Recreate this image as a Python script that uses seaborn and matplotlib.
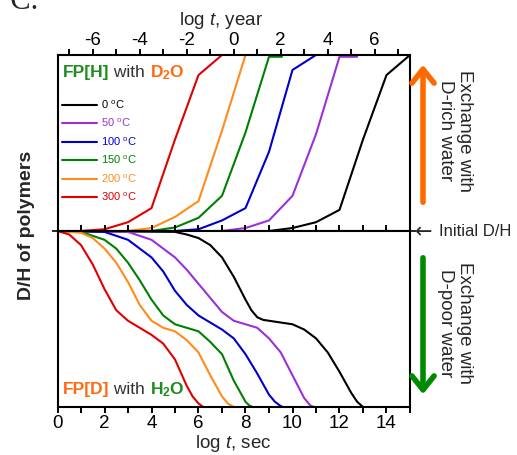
import matplotlib
matplotlib.use("Agg")
import matplotlib.pyplot as plt
import pandas as pd
import seaborn as sns
from matplotlib.lines import Line2D
from matplotlib.patches import FancyArrowPatch
from matplotlib.offsetbox import TextArea, HPacker, AnchoredOffsetbox

temps = ["0", "50", "100", "150", "200", "300"]
colors = ["#000000", "#9B30D9", "#0000CC", "#008000", "#FF8C1A", "#E00000"]

# upper panel: FP[H] with D2O, x in log t (year)
up_x = {
    "0": [1.5, 2.5, 3.5, 4.5, 5.5, 6.5, 7.5],
    "50": [-0.5, 0.5, 1.5, 2.5, 3.5, 4.5, 5.25],
    "100": [-2.5, -1.5, -0.5, 0.5, 1.5, 2.5, 3.5],
    "150": [-3.5, -2.5, -1.5, -0.5, 0.5, 1.5, 2.05],
    "200": [-4.5, -3.5, -2.5, -1.5, -0.5, 0.5],
    "300": [-6.5, -5.5, -4.5, -3.5, -2.5, -1.5, -0.5],
}
up_y = {
    "0": [0, 0.017, 0.05, 0.12, 0.52, 0.886, 1.0],
    "50": [0, 0.017, 0.06, 0.2, 0.55, 0.99, 0.99],
    "100": [0, 0.01, 0.06, 0.13, 0.45, 0.915, 1.0],
    "150": [0, 0.02, 0.075, 0.2, 0.56, 0.99, 0.99],
    "200": [0, 0.017, 0.08, 0.17, 0.57, 1.0],
    "300": [0, 0.01, 0.05, 0.13, 0.52, 0.886, 1.0],
}

# lower panel: FP[D] with H2O, x in log t (sec)
low_x = {
    "0": [0, 5, 5.5, 6, 6.5, 7, 7.5, 8, 8.25, 8.5, 8.75, 9, 9.5, 10, 10.5, 11, 11.5,
          12, 12.5, 12.75, 13],
    "50": [0, 3, 4, 4.5, 5, 5.5, 6, 6.5, 7, 7.5, 8, 8.5, 9, 9.5, 10, 10.5, 10.75,
           10.9],
    "100": [0, 2, 3, 3.5, 4, 4.5, 5, 5.5, 6, 6.5, 7, 7.5, 8, 8.5, 9, 9.25, 9.5, 9.6],
    "150": [0, 1, 2, 2.5, 3, 3.5, 4, 4.5, 5, 5.5, 6, 6.5, 7, 7.5, 8, 8.15, 8.3],
    "200": [0, 1, 1.5, 2, 2.5, 3, 3.5, 4, 4.5, 5, 5.5, 6, 6.5, 7, 7.25, 7.5],
    "300": [0, 0.5, 1, 1.5, 2, 2.5, 3, 3.5, 4, 4.5, 5, 5.5, 5.75, 6, 6.2],
}
low_y = {
    "0": [0, -0.005, -0.02, -0.04, -0.08, -0.15, -0.26, -0.39, -0.45, -0.49, -0.505,
          -0.51, -0.52, -0.53, -0.56, -0.61, -0.69, -0.8, -0.92, -0.97, -1.0],
    "50": [0, -0.005, -0.05, -0.1, -0.15, -0.22, -0.3, -0.38, -0.46, -0.51, -0.53,
           -0.55, -0.61, -0.69, -0.82, -0.95, -0.99, -1.0],
    "100": [0, -0.005, -0.05, -0.1, -0.15, -0.23, -0.34, -0.42, -0.48, -0.52, -0.56,
            -0.61, -0.7, -0.81, -0.93, -0.97, -0.995, -1.0],
    "150": [0, -0.005, -0.05, -0.1, -0.18, -0.28, -0.39, -0.48, -0.53, -0.55, -0.57,
            -0.63, -0.7, -0.85, -0.97, -0.99, -1.0],
    "200": [0, -0.01, -0.04, -0.1, -0.18, -0.29, -0.42, -0.51, -0.55, -0.57, -0.62,
            -0.69, -0.82, -0.94, -0.98, -1.0],
    "300": [0, -0.02, -0.08, -0.19, -0.33, -0.45, -0.51, -0.55, -0.59, -0.64, -0.73,
            -0.88, -0.94, -0.98, -1.0],
}


def to_frame(xs, ys):
    rows = []
    for t in temps:
        for x, y in zip(xs[t], ys[t]):
            rows.append({"temp": t, "x": x, "y": y})
    return pd.DataFrame(rows)


sns.set_theme(style="ticks")
plt.rcParams["font.family"] = ["Liberation Sans", "DejaVu Sans"]
plt.rcParams["mathtext.fontset"] = "custom"
plt.rcParams["mathtext.rm"] = "Liberation Sans"
plt.rcParams["mathtext.it"] = "Liberation Sans:italic"
plt.rcParams["mathtext.bf"] = "Liberation Sans:bold"
plt.rcParams["axes.unicode_minus"] = False

fig = plt.figure(figsize=(5.17, 4.55), dpi=100)
W, H = 517, 455
x0, x1, ytop, ymid, ybot = 57.5, 410, 55, 231, 407
ax_up = fig.add_axes([x0 / W, 1 - ymid / H, (x1 - x0) / W, (ymid - ytop) / H])
ax_low = fig.add_axes([x0 / W, 1 - ybot / H, (x1 - x0) / W, (ybot - ymid) / H])

palette = dict(zip(temps, colors))
line_kw = dict(estimator=None, sort=False, lw=1.5, legend=False,
               solid_joinstyle="round", solid_capstyle="round")
sns.lineplot(data=to_frame(up_x, up_y), x="x", y="y", hue="temp", palette=palette,
             ax=ax_up, **line_kw)
sns.lineplot(data=to_frame(low_x, low_y), x="x", y="y", hue="temp", palette=palette,
             ax=ax_low, **line_kw)

ax_up.set_xlim(-7.5, 7.5)
ax_up.set_ylim(0, 1)
ax_low.set_xlim(0, 15)
ax_low.set_ylim(-1, 0)

for ax in (ax_up, ax_low):
    for s in ax.spines.values():
        s.set_linewidth(1.5)
        s.set_color("black")
    ax.tick_params(axis="x", which="both", top=True, bottom=True, direction="out",
                   length=4, width=1.4, colors="black", labelsize=13.5)
    ax.set_ylabel("")

ax_up.set_xticks(range(-6, 7, 2))
ax_up.set_xticks(range(-7, 8, 2), minor=True)
ax_up.tick_params(axis="x", labeltop=True, labelbottom=False, pad=0)
ax_up.set_yticks([])
ax_up.set_xlabel("log $\\it{t}$, year", fontsize=13.5)
ax_up.xaxis.set_label_position("top")
ax_up.xaxis.set_label_coords(0.465, 1.17)

ax_low.set_xticks(range(0, 15, 2))
ax_low.set_xticks(range(1, 16, 2), minor=True)
ax_low.tick_params(axis="x", labeltop=False, labelbottom=True, pad=1.5)
ax_low.set_yticks([0])
ax_low.tick_params(axis="y", left=True, right=True, labelleft=False, direction="out",
                   length=4, width=1.4)
ax_low.set_xlabel("log $\\it{t}$, sec", fontsize=13.5)
ax_low.xaxis.set_label_coords(0.5, -0.145)

# legend for temperatures
handles = [Line2D([], [], color=c, lw=1.5) for c in colors]
labels = [t + " $^\\mathrm{o}$C" for t in temps]
ax_up.legend(handles, labels, loc="upper left", bbox_to_anchor=(0.012, 0.755),
             frameon=False, fontsize=8, handlelength=3.2, handletextpad=0.3,
             labelspacing=0.55, borderpad=0, borderaxespad=0, labelcolor="linecolor")


def colored_title(ax, parts, loc, anchor):
    boxes = [TextArea(s, textprops=dict(color=c, fontsize=12.5, fontweight=w))
             for s, c, w in parts]
    pack = HPacker(children=boxes, align="baseline", pad=0, sep=0)
    ab = AnchoredOffsetbox(loc=loc, child=pack, frameon=False, pad=0, borderpad=0,
                           bbox_to_anchor=anchor, bbox_transform=ax.transAxes)
    ax.add_artist(ab)


colored_title(ax_up, [("FP[H]", "#1E8C1E", "bold"), (" with ", "#333333", "normal"),
                      ("D$_\\mathbf{2}$O", "#FF6A10", "bold")],
              "upper left", (0.015, 0.955))
colored_title(ax_low, [("FP[D]", "#FF6A10", "bold"), (" with ", "#333333", "normal"),
                       ("H$_\\mathbf{2}$O", "#1E8C1E", "bold")],
              "lower left", (0.015, 0.045))

fig.text(27 / W, 1 - 225 / H, "D/H of polymers", rotation=90, ha="center",
         va="center", fontsize=14, fontweight="bold")

# right side annotations
fig.add_artist(FancyArrowPatch((423 / W, 1 - 205 / H), (423 / W, 1 - 62 / H),
                               transform=fig.transFigure, color="#FF6A00", lw=4,
                               arrowstyle="->,head_length=0.5,head_width=0.4",
                               mutation_scale=20))
fig.add_artist(FancyArrowPatch((423 / W, 1 - 255 / H), (423 / W, 1 - 397 / H),
                               transform=fig.transFigure, color="#008A00", lw=4,
                               arrowstyle="->,head_length=0.5,head_width=0.4",
                               mutation_scale=20))
fig.text(455 / W, 1 - 131 / H, "Exchange with\nD-rich water", rotation=-90,
         ha="center", va="center", fontsize=13.5, linespacing=1.15)
fig.text(455 / W, 1 - 323 / H, "Exchange with\nD-poor water", rotation=-90,
         ha="center", va="center", fontsize=13.5, linespacing=1.15)
fig.text(415 / W, 1 - 232 / H, "\u2190", ha="left", va="center", fontsize=15,
         family="DejaVu Sans")
fig.text(439 / W, 1 - 231 / H, "Initial D/H", ha="left", va="center", fontsize=12)

# cropped caption fragment at top-left
fig.text(-2 / W, 1 - 9 / H, "\u00b0C.", ha="left", va="baseline", fontsize=22,
         family="Liberation Serif")

fig.savefig("out.png", dpi=100)
